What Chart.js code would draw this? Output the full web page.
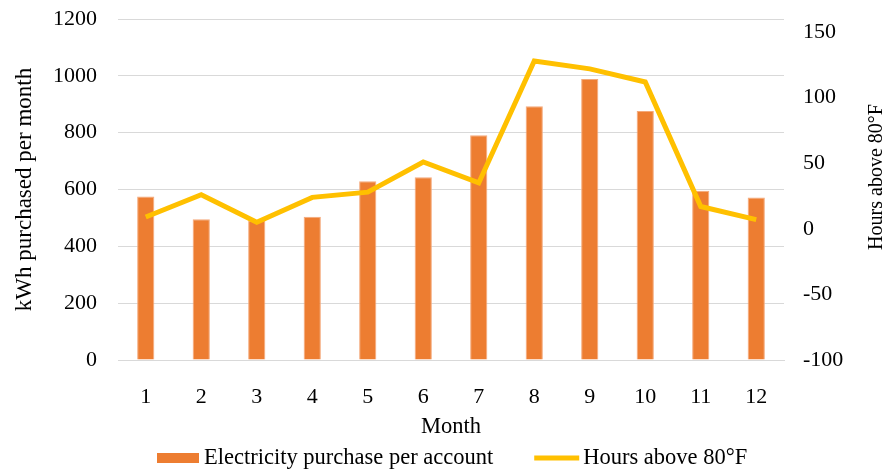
<!DOCTYPE html>
<html>
<head>
<meta charset="utf-8">
<script src="https://cdn.jsdelivr.net/npm/chart.js@4"></script>
<style>
  html, body { margin: 0; padding: 0; background: #fff; }
  #wrap { width: 892px; height: 471px; }
</style>
</head>
<body>
<div id="wrap"><canvas id="c" width="892" height="471"></canvas></div>
<script>
// Monthly electricity purchase per account and hours above 80°F
const months = ['1', '2', '3', '4', '5', '6', '7', '8', '9', '10', '11', '12'];
const kwhPerAccount = [575, 495, 490, 504, 629, 643, 791, 893, 989, 876, 596, 572];
const hoursAbove80 = [9, 26, 5, 24, 28, 51, 35, 128, 122, 112, 17, 7];
const leftTicks = [0, 200, 400, 600, 800, 1000, 1200];
const rightTicks = [-100, -50, 0, 50, 100, 150];

const FONT = '"Liberation Serif", "Times New Roman", serif';
const TXT = '#000000';
const BAR_COLOR = '#ED7D31';
const LINE_COLOR = '#FFC000';

Chart.defaults.font.family = FONT;
Chart.defaults.color = TXT;

// Right-hand axis title reads bottom-to-top, plus a legend row under the axis title
const extras = {
  id: 'extras',
  afterDraw(chart) {
    const ctx = chart.ctx;
    ctx.save();
    ctx.fillStyle = TXT;
    ctx.textBaseline = 'middle';

    // right axis title
    ctx.save();
    ctx.translate(877, 177);
    ctx.rotate(-Math.PI / 2);
    ctx.font = '20px ' + FONT;
    ctx.textAlign = 'center';
    ctx.fillText('Hours above 80°F', 0, 0);
    ctx.restore();

    // legend
    const ly = 458;
    const items = chart.data.datasets.slice().reverse();
    ctx.font = '22.5px ' + FONT;
    ctx.textAlign = 'left';
    let x = 157;
    items.forEach((ds) => {
      if (ds.type === 'bar') {
        ctx.fillStyle = ds.backgroundColor;
        ctx.fillRect(x, ly - 5, 42, 10);
        x += 42 + 5;
      } else {
        ctx.strokeStyle = ds.borderColor;
        ctx.lineWidth = 5;
        ctx.beginPath();
        ctx.moveTo(x, ly);
        ctx.lineTo(x + 45, ly);
        ctx.stroke();
        x += 45 + 4;
      }
      ctx.fillStyle = TXT;
      ctx.fillText(ds.label, x, ly);
      x += ctx.measureText(ds.label).width + 41;
    });
    ctx.restore();
  }
};

new Chart(document.getElementById('c'), {
  data: {
    labels: months,
    datasets: [
      {
        type: 'line',
        label: 'Hours above 80°F',
        data: hoursAbove80,
        yAxisID: 'yR',
        borderColor: LINE_COLOR,
        backgroundColor: LINE_COLOR,
        borderWidth: 5,
        pointRadius: 0,
        pointHoverRadius: 0,
        tension: 0,
        order: 0
      },
      {
        type: 'bar',
        label: 'Electricity purchase per account',
        data: kwhPerAccount,
        yAxisID: 'yL',
        backgroundColor: BAR_COLOR,
        borderColor: '#F4A97A',
        borderWidth: 1,
        barPercentage: 0.31,
        categoryPercentage: 1,
        order: 1
      }
    ]
  },
  options: {
    responsive: false,
    animation: false,
    events: [],
    layout: { padding: { top: 19, left: 0, right: 0, bottom: 29 } },
    scales: {
      x: {
        type: 'category',
        offset: true,
        afterFit: (axis) => { axis.height = 82; axis.paddingLeft = 0; axis.paddingRight = 0; },
        grid: { display: false, drawTicks: false },
        border: { display: true, color: '#D9D9D9', width: 1 },
        ticks: { padding: 24, font: { size: 22 }, color: TXT, maxRotation: 0 },
        title: { display: true, text: 'Month', font: { size: 22.5 }, color: TXT, padding: { top: 0, bottom: 1 } }
      },
      yL: {
        type: 'linear',
        position: 'left',
        min: 0,
        max: 1200,
        afterBuildTicks: (axis) => { axis.ticks = leftTicks.map(v => ({ value: v })); },
        afterFit: (axis) => { axis.width = 118; axis.paddingTop = 0; axis.paddingBottom = 0; },
        grid: { color: '#D9D9D9', lineWidth: 1, drawTicks: false },
        border: { display: false },
        ticks: { padding: 21, font: { size: 22 }, color: TXT, callback: (v) => String(v) },
        title: { display: true, text: 'kWh purchased per month', font: { size: 23 }, color: TXT, padding: { top: 11, bottom: 0 } }
      },
      yR: {
        type: 'linear',
        position: 'right',
        min: -100,
        max: 160,
        afterBuildTicks: (axis) => { axis.ticks = rightTicks.map(v => ({ value: v })); },
        afterFit: (axis) => { axis.width = 108; axis.paddingTop = 0; axis.paddingBottom = 0; },
        grid: { display: false, drawTicks: false },
        border: { display: false },
        ticks: { padding: 19, font: { size: 22 }, color: TXT, callback: (v) => String(v) },
        title: { display: false }
      }
    },
    plugins: {
      tooltip: { enabled: false },
      legend: { display: false }
    }
  },
  plugins: [extras]
});
</script>
</body>
</html>
